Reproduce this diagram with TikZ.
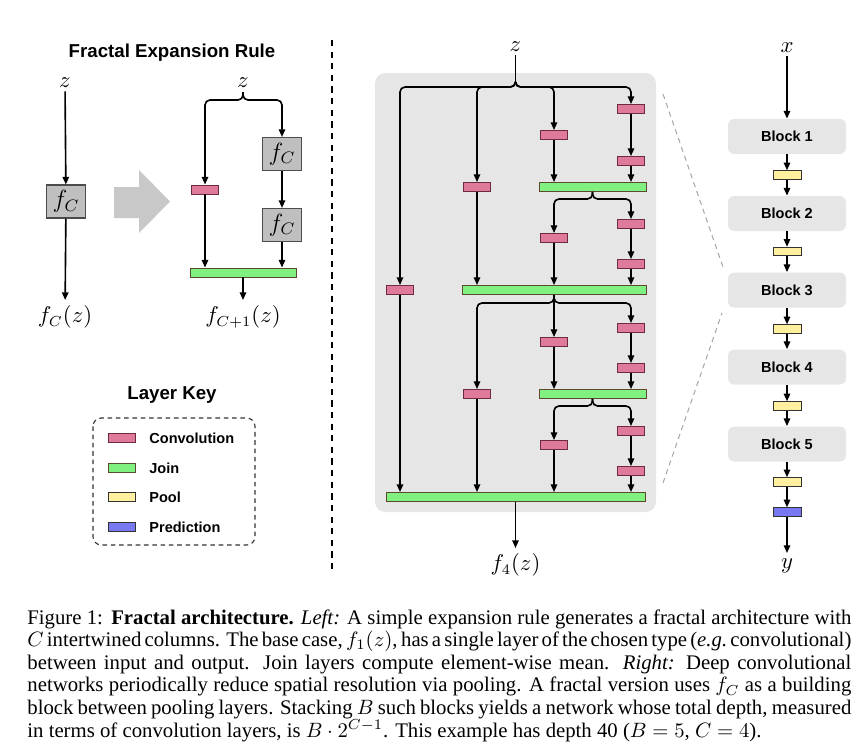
\documentclass[tikz,border=0pt]{standalone}
\usepackage{fontspec}
\setmainfont{Liberation Serif}
\setsansfont{Liberation Sans}
\usetikzlibrary{arrows.meta,calc}
\def\pxu{0.4818pt}
\newcommand\capl[1]{\hbox to 397pt{#1}}
\definecolor{convc}{HTML}{E07A9A}
\definecolor{convd}{HTML}{6E2B40}
\definecolor{joinc}{HTML}{80F080}
\definecolor{joind}{HTML}{5C4A30}
\definecolor{poolc}{HTML}{FFF0A0}
\definecolor{predc}{HTML}{7878F0}
\definecolor{bgc}{HTML}{E6E6E6}
\definecolor{fcc}{HTML}{BFBFBF}
\definecolor{bigarr}{HTML}{C8C8C8}
\definecolor{zoomc}{HTML}{A8A8A8}
\tikzset{
  conn/.style={line width=0.78pt, rounded corners=2.4pt},
  arr/.style={conn, -{Triangle[length=3.7pt,width=3.1pt]}},
  layer/.style={rectangle, inner sep=0pt, line width=0.45pt, minimum height={9*\pxu}},
  convl/.style={layer, fill=convc, draw=convd, minimum width={27*\pxu}},
  joinl/.style={layer, fill=joinc, draw=joind},
  pooll/.style={layer, fill=poolc, draw=black!80, minimum width={28*\pxu}, minimum height={8.5*\pxu}},
  predl/.style={layer, fill=predc, draw=black!80, minimum width={28*\pxu}, minimum height={8.5*\pxu}},
  fcbox/.style={rectangle, fill=fcc, draw=black!70, line width=0.5pt, minimum width={39*\pxu}, minimum height={33*\pxu}, inner sep=0pt, font=\fontsize{11.5}{13}\selectfont},
  blk/.style={rectangle, rounded corners=3pt, fill=bgc, minimum width={118*\pxu}, minimum height={35*\pxu}, inner sep=0pt, font=\sffamily\bfseries\fontsize{7}{8}\selectfont},
  ttl/.style={font=\sffamily\bfseries\fontsize{9}{10}\selectfont, inner sep=0pt},
  keytxt/.style={font=\sffamily\bfseries\fontsize{7}{8}\selectfont, anchor=west, inner sep=0pt},
  lbl/.style={font=\fontsize{10.5}{12}\selectfont, inner sep=1.5pt},
  outlbl/.style={lbl, anchor=north, inner sep=2.6pt},
  zoomln/.style={draw=zoomc, line width=0.5pt, dash pattern=on 2.5pt off 2pt},
}
\begin{document}
\begin{tikzpicture}[x=\pxu, y=-\pxu]
\useasboundingbox (0,0) rectangle (868,747);

% ---------------- left: expansion rule ----------------
\node[ttl] (ttlL) at (172,53) {Fractal Expansion Rule};
\node[lbl] (zL) at (65,83) {$z$};
\node[fcbox] (fcL) at (66,201.5) {$f_C$};
\node[outlbl] (oL) at (65,300) {$f_C(z)$};
\draw[arr] (zL) -- (fcL);
\draw[arr] (fcL) -- (oL);

\fill[bigarr] (114,187) -- (139,187) -- (139,170) -- (170,201.5) -- (139,233) -- (139,218) -- (114,218) -- cycle;

\node[lbl] (zR) at (243,83) {$z$};
\coordinate (bR) at (243,92);
\node[convl] (cR) at (205,189.5) {};
\node[fcbox] (fc1) at (282,154) {$f_C$};
\node[fcbox] (fc2) at (282,225) {$f_C$};
\node[joinl, minimum width={106*\pxu}] (jR) at (243,272.5) {};
\node[outlbl] (oR) at (243,300) {$f_{C+1}(z)$};
\draw[arr] (bR) -- ++(0,8) -| (cR.north);
\draw[arr] (bR) -- ++(0,8) -| (fc1.north);
\draw[arr] (fc1) -- (fc2);
\draw[arr] (cR.south) -- (cR.south |- jR.north);
\draw[arr] (fc2.south) -- (fc2.south |- jR.north);
\draw[arr] (jR) -- (oR);

% separator
\draw[line width=0.7pt, dash pattern=on 3pt off 2.6pt] (332,40) -- (332,570);

% ---------------- layer key ----------------
\node[ttl] (ttlK) at (172,395) {Layer Key};
\draw[line width=0.55pt, draw=black!80, dash pattern=on 2.2pt off 1.8pt, rounded corners=4pt] (93,418) rectangle (255,545);
\node[convl] (kc) at (121.5,438) {};
\node[keytxt] (kct) at (149,438) {Convolution};
\node[joinl, minimum width={27*\pxu}] (kj) at (121.5,468) {};
\node[keytxt] (kjt) at (149,468) {Join};
\node[pooll, minimum width={27*\pxu}, minimum height={9*\pxu}] (kp) at (121.5,497) {};
\node[keytxt] (kpt) at (149,497) {Pool};
\node[predl, minimum width={27*\pxu}, minimum height={9*\pxu}] (kd) at (121.5,527) {};
\node[keytxt] (kdt) at (149,527) {Prediction};

% ---------------- middle: f_4 ----------------
\fill[bgc, rounded corners=5pt] (375,73) rectangle (656,512);
\node[lbl] (zM) at (515.5,47) {$z$};
\coordinate (cM) at (515.5,82);
\draw[conn] (zM) -- (cM);

\node[convl] (c41) at (631,109) {};
\node[convl] (c42) at (631,161) {};
\node[convl] (c31) at (554,135) {};
\node[joinl, minimum width={107*\pxu}] (j1) at (592.5,187) {};
\node[convl] (c21) at (477,187) {};
\node[convl] (c32) at (554,238) {};
\node[convl] (c43) at (631,224) {};
\node[convl] (c44) at (631,264) {};
\node[joinl, minimum width={184*\pxu}] (j2) at (554,290) {};
\node[convl] (c11) at (400,290) {};
\node[convl] (c45) at (631,328) {};
\node[convl] (c46) at (631,368) {};
\node[convl] (c33) at (554,342) {};
\node[joinl, minimum width={107*\pxu}] (j3) at (592.5,394) {};
\node[convl] (c22) at (477,394) {};
\node[convl] (c47) at (631,431) {};
\node[convl] (c48) at (631,471) {};
\node[convl] (c34) at (554,445) {};
\node[joinl, minimum width={259*\pxu}] (jF) at (515.5,497) {};
\node[outlbl] (oM) at (515.5,548) {$f_4(z)$};

% top brace
\draw[arr] (cM) -- ++(0,5) -| (c11.north);
\draw[arr] (cM) -- ++(0,5) -| (c21.north);
\draw[arr] (cM) -- ++(0,5) -| (c31.north);
\draw[arr] (cM) -- ++(0,5) -| (c41.north);
% first sub-block
\draw[arr] (c41) -- (c42);
\draw[arr] (c42) -- (c42 |- j1.north);
\draw[arr] (c31) -- (c31 |- j1.north);
\draw[arr] (j1.south) -- ++(0,7) -| (c32.north);
\draw[arr] (j1.south) -- ++(0,7) -| (c43.north);
\draw[arr] (c43) -- (c44);
\draw[arr] (c44) -- (c44 |- j2.north);
\draw[arr] (c32) -- (c32 |- j2.north);
\draw[arr] (c21) -- (c21 |- j2.north);
% second half
\draw[arr] (j2.south) -- ++(0,8) -| (c22.north);
\draw[arr] (j2.south) -- (c33.north);
\draw[arr] (j2.south) -- ++(0,8) -| (c45.north);
\draw[arr] (c45) -- (c46);
\draw[arr] (c46) -- (c46 |- j3.north);
\draw[arr] (c33) -- (c33 |- j3.north);
\draw[arr] (j3.south) -- ++(0,7) -| (c34.north);
\draw[arr] (j3.south) -- ++(0,7) -| (c47.north);
\draw[arr] (c47) -- (c48);
\draw[arr] (c48) -- (c48 |- jF.north);
\draw[arr] (c34) -- (c34 |- jF.north);
\draw[arr] (c22) -- (c22 |- jF.north);
\draw[arr] (c11) -- (c11 |- jF.north);
\draw[arr] (jF) -- (oM);

% zoom lines
\coordinate (zl1) at (663,94);
\coordinate (zl2) at (723,267);
\coordinate (zl3) at (663,483);
\coordinate (zl4) at (722,313);
\draw[zoomln] (zl1) -- (zl2);
\draw[zoomln] (zl3) -- (zl4);

% ---------------- right: full network ----------------
\node[lbl] (xR) at (787,48) {$x$};
\node[blk] (b1) at (787,136.5) {Block 1};
\node[pooll] (p1) at (787,175) {};
\node[blk] (b2) at (787,213.5) {Block 2};
\node[pooll] (p2) at (787,251.5) {};
\node[blk] (b3) at (787,290) {Block 3};
\node[pooll] (p3) at (787,329) {};
\node[blk] (b4) at (787,367) {Block 4};
\node[pooll] (p4) at (787,406) {};
\node[blk] (b5) at (787,444) {Block 5};
\node[pooll] (p5) at (787,482) {};
\node[predl] (pd) at (787,512) {};
\node[outlbl] (yR) at (787,553) {$y$};
\draw[arr] (xR) -- (b1);
\draw[arr] (b1) -- (p1);
\draw[arr] (p1) -- (b2);
\draw[arr] (b2) -- (p2);
\draw[arr] (p2) -- (b3);
\draw[arr] (b3) -- (p3);
\draw[arr] (p3) -- (b4);
\draw[arr] (b4) -- (p4);
\draw[arr] (p4) -- (b5);
\draw[arr] (b5) -- (p5);
\draw[arr] (p5) -- (pd);
\draw[arr] (pd) -- (yR);

% ---------------- caption ----------------
\node[anchor=north west, inner sep=0pt, font=\fontsize{10}{10.9}\selectfont] (cap) at (27,609) {\vbox{\hsize=397pt
\spaceskip=2.5pt plus 3pt minus 1.7pt \baselineskip=10.9pt \lineskiplimit=-10pt
\capl{Figure~1:\hspace{4pt}\textbf{Fractal architecture.} \textit{Left:} A simple expansion rule generates a fractal architecture with}
\capl{$C$ intertwined columns. The base case, $f_1(z)$, has a single layer of the chosen type (\textit{e.g.}\ convolutional)}
\capl{between input and output. Join layers compute element-wise mean. \textit{Right:} Deep convolutional}
\capl{networks periodically reduce spatial resolution via pooling. A fractal version uses $f_C$ as a building}
\capl{block between pooling layers. Stacking $B$ such blocks yields a network whose total depth, measured}
\hbox{in terms of convolution layers, is $B\cdot 2^{C-1}$. This example has depth 40 ($B=5$, $C=4$).}}};
\end{tikzpicture}
\end{document}
